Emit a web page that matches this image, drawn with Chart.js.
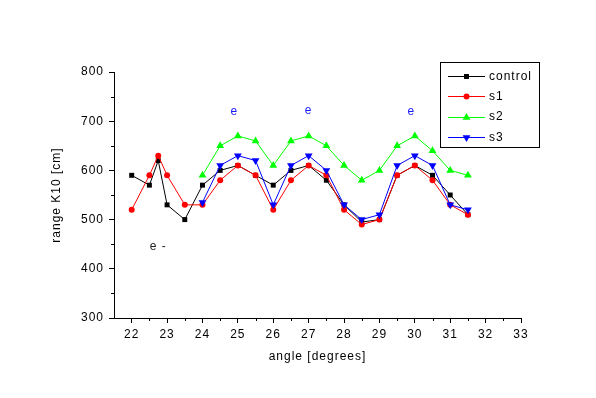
<!DOCTYPE html>
<html>
<head>
<meta charset="utf-8">
<script src="https://cdn.jsdelivr.net/npm/chart.js@4/dist/chart.umd.min.js"></script>
<style>
    body { margin: 0; background: #fff; }
    #wrap { width: 596px; height: 398px; }
</style>
</head>
<body>
<div id="wrap"><canvas id="rangeChart" width="596" height="398"></canvas></div>
<script>
// Data
const anglesAll = [22, 22.5, 22.75, 23, 23.5, 24, 24.5, 25, 25.5, 26, 26.5, 27, 27.5, 28, 28.5, 29, 29.5, 30, 30.5, 31, 31.5];
const anglesLate = [24, 24.5, 25, 25.5, 26, 26.5, 27, 27.5, 28, 28.5, 29, 29.5, 30, 30.5, 31, 31.5];

const controlValues = [590, 570, 620, 530, 500, 570, 600, 610, 590, 570, 600, 610, 580, 530, 495, 500, 590, 610, 590, 550, 510];
const s1Values = [520, 590, 630, 590, 530, 530, 580, 610, 590, 520, 580, 610, 590, 520, 490, 500, 590, 610, 580, 530, 510];
const s2Values = [590, 650, 670, 660, 610, 660, 670, 650, 610, 580, 600, 650, 670, 640, 600, 590];
const s3Values = [535, 610, 630, 620, 530, 610, 630, 600, 530, 500, 510, 610, 630, 610, 530, 520];

const xTicks = [22, 23, 24, 25, 26, 27, 28, 29, 30, 31, 32, 33];
const yTicks = [300, 400, 500, 600, 700, 800];

const noteX = [22.75, 24.9, 27, 29.9];
const noteY = [445, 720, 722, 719];
const noteText = ['e -', 'e', 'e', 'e'];

const FONT = "'Liberation Sans', Arial, sans-serif";
Chart.defaults.font.family = FONT;
Chart.defaults.font.size = 12;
Chart.defaults.color = '#000';

const pairs = (xs, ys) => xs.map((x, i) => ({ x: x, y: ys[i] }));

function marker(ctx, style, rotation, x, y, r) {
    ctx.beginPath();
    if (style === 'rect') {
        const s = r * Math.SQRT1_2;
        ctx.rect(x - s, y - s, 2 * s, 2 * s);
    } else if (style === 'circle') {
        ctx.arc(x, y, r, 0, Math.PI * 2);
    } else {
        const dir = rotation === 180 ? -1 : 1;
        ctx.moveTo(x, y - dir * r);
        ctx.lineTo(x + r * 0.866, y + dir * r * 0.5);
        ctx.lineTo(x - r * 0.866, y + dir * r * 0.5);
        ctx.closePath();
    }
    ctx.fill();
}

const spacing = {
    id: 'spacing',
    beforeLayout(chart) { chart.ctx.letterSpacing = '1px'; },
    beforeDraw(chart) { chart.ctx.letterSpacing = '1px'; }
};

// half-step minor ticks
const minorTicks = {
    id: 'minorTicks',
    afterDraw(chart) {
        const ctx = chart.ctx;
        const x = chart.scales.x, y = chart.scales.y;
        ctx.save();
        ctx.strokeStyle = '#000';
        ctx.lineWidth = 1;
        ctx.beginPath();
        for (let i = 0; i < xTicks.length - 1; i++) {
            const px = Math.round(x.getPixelForValue(xTicks[i] + 0.5)) + 0.5;
            ctx.moveTo(px, x.top);
            ctx.lineTo(px, x.top + 3);
        }
        for (let i = 0; i < yTicks.length - 1; i++) {
            const py = Math.round(y.getPixelForValue(yTicks[i] + 50)) + 0.5;
            ctx.moveTo(y.right, py);
            ctx.lineTo(y.right - 3, py);
        }
        ctx.stroke();
        ctx.restore();
    }
};

const notes = {
    id: 'notes',
    afterDatasetsDraw(chart) {
        const ctx = chart.ctx;
        ctx.save();
        ctx.font = '12px ' + FONT;
        ctx.textAlign = 'center';
        ctx.textBaseline = 'middle';
        noteText.forEach((t, i) => {
            ctx.fillStyle = i === 0 ? '#222' : '#1a1aff';
            ctx.fillText(t, chart.scales.x.getPixelForValue(noteX[i]), chart.scales.y.getPixelForValue(noteY[i]));
        });
        ctx.restore();
    }
};

const boxLegend = {
    id: 'boxLegend',
    afterDraw(chart) {
        const ctx = chart.ctx;
        ctx.save();
        ctx.strokeStyle = '#000';
        ctx.lineWidth = 1;
        ctx.strokeRect(440.5, 62.5, 99, 85);
        ctx.font = '12px ' + FONT;
        ctx.textBaseline = 'middle';
        chart.data.datasets.forEach((ds, i) => {
            const cy = 76 + i * 20.3;
            ctx.strokeStyle = ds.borderColor;
            ctx.fillStyle = ds.borderColor;
            ctx.beginPath();
            ctx.moveTo(448, Math.round(cy) + 0.5);
            ctx.lineTo(485, Math.round(cy) + 0.5);
            ctx.stroke();
            marker(ctx, ds.pointStyle, ds.pointRotation, 466.5, Math.round(cy) + 0.5, ds.pointRadius);
            ctx.fillStyle = '#000';
            ctx.fillText(ds.label, 489, cy + 0.5);
        });
        ctx.restore();
    }
};

new Chart(document.getElementById('rangeChart'), {
    type: 'line',
    data: {
        datasets: [
            {
                label: 'control',
                data: pairs(anglesAll, controlValues),
                borderColor: '#000000',
                backgroundColor: '#000000',
                pointStyle: 'rect',
                pointRadius: 3.5,
                order: 4
            },
            {
                label: 's1',
                data: pairs(anglesAll, s1Values),
                borderColor: '#ff0000',
                backgroundColor: '#ff0000',
                pointStyle: 'circle',
                pointRadius: 3,
                order: 3
            },
            {
                label: 's2',
                data: pairs(anglesLate, s2Values),
                borderColor: '#00ff00',
                backgroundColor: '#00ff00',
                pointStyle: 'triangle',
                pointRadius: 4.5,
                order: 2
            },
            {
                label: 's3',
                data: pairs(anglesLate, s3Values),
                borderColor: '#0000ff',
                backgroundColor: '#0000ff',
                pointStyle: 'triangle',
                pointRotation: 180,
                pointRadius: 4.5,
                order: 1
            }
        ]
    },
    options: {
        responsive: false,
        animation: false,
        datasets: {
            line: { borderWidth: 1, tension: 0, pointBorderWidth: 0, pointHoverRadius: 4 }
        },
        layout: { padding: { left: 0, top: 72, right: 75, bottom: 0 } },
        scales: {
            x: {
                type: 'linear',
                min: 21.5,
                max: 33,
                afterBuildTicks: s => { s.ticks = xTicks.map(v => ({ value: v })); },
                afterFit: s => { s.height = 80; },
                grid: { drawOnChartArea: false, color: '#000', tickLength: 5 },
                border: { color: '#000' },
                ticks: { padding: 4, maxRotation: 0, color: '#000' },
                title: { display: true, text: 'angle [degrees]', padding: { top: 0, bottom: 34 } }
            },
            y: {
                min: 300,
                max: 800,
                afterBuildTicks: s => { s.ticks = yTicks.map(v => ({ value: v })); },
                afterFit: s => { s.width = 114; },
                grid: { drawOnChartArea: false, color: '#000', tickLength: 5 },
                border: { color: '#000' },
                ticks: { padding: 5, color: '#000' },
                title: { display: true, text: 'range K10 [cm]', padding: { top: 49, bottom: 0 } }
            }
        },
        plugins: {
            legend: { display: false },
            tooltip: { enabled: false }
        }
    },
    plugins: [spacing, minorTicks, notes, boxLegend]
});
</script>
</body>
</html>
